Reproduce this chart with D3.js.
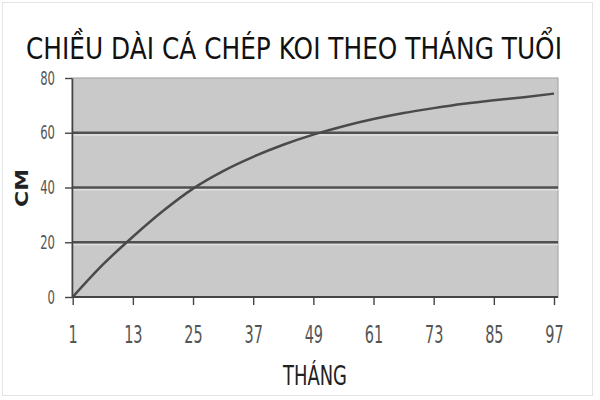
<!DOCTYPE html>
<html>
<head>
<meta charset="utf-8">
<script src="https://cdn.jsdelivr.net/npm/d3@7"></script>
<style>
  html, body { margin: 0; padding: 0; background: #fff; }
  svg { display: block; }
  text { font-family: "DejaVu Sans", sans-serif; }
</style>
</head>
<body>
<svg id="chart" width="600" height="400"></svg>
<script>
// ---- data ----
const title = "CHIỀU DÀI CÁ CHÉP KOI THEO THÁNG TUỔI";
const xTitle = "THÁNG";
const yTitle = "CM";
const months = [1, 7, 13, 19, 25, 31, 37, 43, 49, 55, 61, 67, 73, 79, 85, 91, 97];
const lengthCm = [0, 11.8, 22, 31.4, 39.6, 46, 51.2, 55.6, 59.3, 62.4, 65, 67.2, 69, 70.6, 71.9, 73, 74.3];
const xTicks = [1, 13, 25, 37, 49, 61, 73, 85, 97];
const yTicks = [0, 20, 40, 60, 80];
const gridValues = [20, 40, 60];

const svg = d3.select("#chart");

// horizontally squeeze a text element to a target width, keeping its anchor point
function squeeze(node, target) {
  const len = node.getComputedTextLength();
  if (!len) return;
  const s = target / len;
  const ax = +(node.getAttribute("x") || 0);
  node.setAttribute("transform", `translate(${ax},0) scale(${s},1) translate(${-ax},0)`);
}

// faint outer frame
svg.append("rect").attr("x", 2.5).attr("y", 2.5).attr("width", 590).attr("height", 393)
  .attr("fill", "none").attr("stroke", "#e4e4e4").attr("stroke-width", 1);

const plot = { left: 72, right: 558, top: 78, bottom: 297 };
const x = d3.scaleLinear().domain([1, 97]).range([72.7, 554]);
const y = d3.scaleLinear().domain([0, 80]).range([plot.bottom, plot.top]);

// plot background
svg.append("rect")
  .attr("x", plot.left).attr("y", plot.top)
  .attr("width", plot.right - plot.left).attr("height", plot.bottom - plot.top)
  .attr("fill", "#c9c9c9").attr("stroke", "#a9a9a9").attr("stroke-width", 1.2);

// gridlines (with light halo)
svg.append("g").selectAll("line").data(gridValues).join("line")
  .attr("x1", plot.left).attr("x2", plot.right)
  .attr("y1", d => y(d) + 2.2).attr("y2", d => y(d) + 2.2)
  .attr("stroke", "#e0e0e0").attr("stroke-width", 1.4);
svg.append("g").selectAll("line").data(gridValues).join("line")
  .attr("x1", plot.left).attr("x2", plot.right)
  .attr("y1", d => y(d)).attr("y2", d => y(d))
  .attr("stroke", "#505050").attr("stroke-width", 2.5);

// curve
const line = d3.line().x((d, i) => x(months[i])).y(d => y(d)).curve(d3.curveMonotoneX);
svg.append("path").datum(lengthCm)
  .attr("d", line).attr("fill", "none")
  .attr("stroke", "#4a4a4a").attr("stroke-width", 2.5);

// y axis
const yAxis = svg.append("g").attr("transform", `translate(${plot.left},0)`)
  .call(d3.axisLeft(y).tickValues(yTicks).tickSize(7).tickPadding(10).tickSizeOuter(0));
yAxis.select(".domain").attr("stroke", "#444").attr("stroke-width", 1.6);
yAxis.selectAll(".tick line").attr("stroke", "#444").attr("stroke-width", 1.4);
yAxis.selectAll(".tick text")
  .attr("fill", "#555").style("font-size", "19px")
  .each(function(d) { squeeze(this, String(d).length * 7.4); });

// x axis
const xAxis = svg.append("g").attr("transform", `translate(0,${plot.bottom})`)
  .call(d3.axisBottom(x).tickValues(xTicks).tickSize(8).tickSizeOuter(0));
xAxis.select(".domain").attr("stroke", "#444").attr("stroke-width", 2)
  .attr("d", `M${plot.left},0H${plot.right}`);
xAxis.selectAll(".tick line").attr("stroke", "#444").attr("stroke-width", 1.4);
xAxis.selectAll(".tick text")
  .attr("fill", "#555").style("font-size", "24px")
  .attr("y", 46).attr("dy", 0)
  .each(function(d) { squeeze(this, String(d).length * 9.2); });

// title
svg.append("text").attr("x", 294).attr("y", 59.5).attr("text-anchor", "middle")
  .attr("fill", "#111").style("font-size", "31px")
  .text(title)
  .each(function() { squeeze(this, 536); });

// x title
svg.append("text").attr("x", 315).attr("y", 385).attr("text-anchor", "middle")
  .attr("fill", "#222").style("font-size", "27px")
  .text(xTitle)
  .each(function() { squeeze(this, 64); });

// y title
svg.append("g").attr("transform", "translate(28,188) rotate(-90)")
  .append("text").attr("x", 0).attr("y", 0)
  .attr("text-anchor", "middle")
  .attr("fill", "#222").style("font-size", "18px").style("font-weight", "bold")
  .text(yTitle)
  .each(function() { squeeze(this, 38); });
</script>
</body>
</html>
